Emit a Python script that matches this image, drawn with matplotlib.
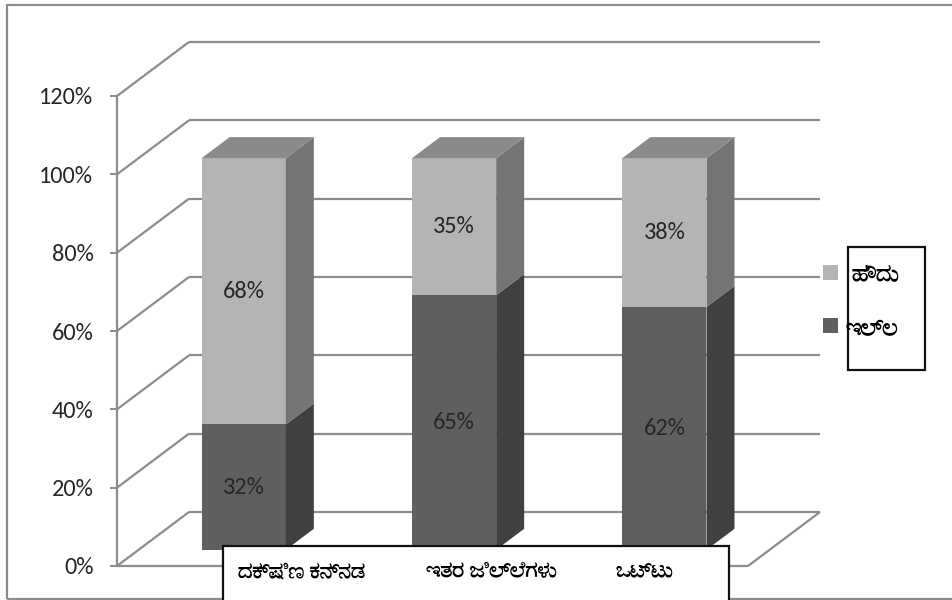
import matplotlib
matplotlib.use("Agg")
import matplotlib.pyplot as plt
from matplotlib import font_manager
from matplotlib.ft2font import FT2Font
from matplotlib.patches import Polygon, Rectangle
from matplotlib.transforms import Affine2D

# data
categories = ["ದಕ್ಷಿಣ ಕನ್ನಡ", "ಇತರ ಜಿಲ್ಲೆಗಳು", "ಒಟ್ಟು"]
series_names = ["ಹೌದು", "ಇಲ್ಲ"]
yes_share = [68, 35, 38]
no_share = [32, 65, 62]
yticks = [0, 20, 40, 60, 80, 100, 120]

W, H, DPI = 952, 600, 100


def find_family(ch, bold=False):
	"""first installed family that has a glyph for ch"""
	hits = []
	for f in font_manager.fontManager.ttflist:
		try:
			if ord(ch) in FT2Font(f.fname).get_charmap():
				hits.append(f)
		except Exception:
			continue
	if not hits:
		return None
	if bold:
		for f in hits:
			if f.weight in ("bold", 700):
				return f.name
	return hits[0].name


names = {f.name for f in font_manager.fontManager.ttflist}
latin = "Carlito" if "Carlito" in names else "Lato"
kan = find_family("ಕ", bold=True)
kan_fam = [kan, "DejaVu Sans"] if kan else ["DejaVu Sans"]

plt.rcParams["font.family"] = [latin, "DejaVu Sans"]

GRID = "#8c8c8c"
LIGHT = ("#b4b4b4", "#747474", "#8a8a8a")  # front, side, top
DARK = ("#5f5f5f", "#404040", "#4e4e4e")
TXT = "#262626"

fig = plt.figure(figsize=(W / DPI, H / DPI), dpi=DPI)
ax = fig.add_axes([117 / W, 34 / H, 631 / W, 470 / H])
ax.set_xlim(-0.5, 2.5)
ax.set_ylim(0, 120)
for s in ("top", "right", "bottom"):
	ax.spines[s].set_visible(False)
ax.spines["left"].set_color(GRID)
ax.spines["left"].set_linewidth(1.6)
ax.set_xticks([])
ax.set_yticks(yticks)
ax.set_yticklabels([f"{v}%" for v in yticks])
ax.tick_params(axis="y", length=5, width=1.4, color=GRID, pad=12,
	labelsize=17.5, labelcolor=TXT)
ax.patch.set_visible(False)


def px(dx, dy):
	"""pixel offset -> data units"""
	o = ax.transData.transform((0, 0))
	p = ax.transData.inverted().transform((o[0] + dx, o[1] + dy))
	return p[0], p[1]


wx, wy = px(72, 54)  # back wall
dx, dy = px(28, 21)  # bar depth
front = ax.transData + Affine2D().translate(21.6, 16.2)

# walls and floor
lk = dict(color=GRID, lw=1.6, zorder=1, clip_on=False, solid_capstyle="butt")
for v in yticks:
	ax.plot([-0.5, -0.5 + wx], [v, v + wy], **lk)
	ax.plot([-0.5 + wx, 2.5 + wx], [v + wy, v + wy], **lk)
ax.plot([-0.5, 2.5], [0, 0], **lk)
ax.plot([2.5, 2.5 + wx], [0, wy], **lk)

# stacked 3d bars
x = list(range(len(categories)))
bw = 0.4
base = [0] * len(x)
for vals, cols in ((no_share, DARK), (yes_share, LIGHT)):
	ax.bar(x, vals, bw, bottom=base, color=cols[0], transform=front,
		zorder=3, clip_on=False, linewidth=0)
	for i, v in enumerate(vals):
		b, t = base[i], base[i] + v
		xl, xr = i - bw / 2, i + bw / 2
		ax.add_patch(Polygon([(xr, b), (xr + dx, b + dy), (xr + dx, t + dy), (xr, t)],
			closed=True, fc=cols[1], lw=0, transform=front, zorder=3, clip_on=False))
		ax.text(i, b + v / 2, f"{v}%", transform=front, ha="center", va="center",
			fontsize=17.5, color=TXT, zorder=4)
	base = [b + v for b, v in zip(base, vals)]
for i, t in enumerate(base):
	xl, xr = i - bw / 2, i + bw / 2
	ax.add_patch(Polygon([(xl, t), (xr, t), (xr + dx, t + dy), (xl + dx, t + dy)],
		closed=True, fc=LIGHT[2], lw=0, transform=front, zorder=3, clip_on=False))

# category label box
fig.add_artist(Rectangle((223 / W, -0.02), 506 / W, 54 / H + 0.02,
	transform=fig.transFigure, fc="white", ec="#111111", lw=1.6, zorder=5))
for cx, name in zip([302, 491, 644], categories):
	fig.text(cx / W, 1 - 572 / H, name, ha="center", va="center", fontsize=16,
		fontweight="bold", family=kan_fam, color="black", zorder=6)

# legend
fig.add_artist(Rectangle((848 / W, 1 - 370 / H), 77 / W, 123 / H,
	transform=fig.transFigure, fc="none", ec="#111111", lw=1.6, zorder=5))
for cy, col in zip([272, 325], [LIGHT[0], DARK[0]]):
	fig.add_artist(Rectangle((823 / W, 1 - (cy + 7.5) / H), 15 / W, 15 / H,
		transform=fig.transFigure, fc=col, lw=0, zorder=5))
for (lx, cy), name in zip([(852, 275), (846, 330)], series_names):
	fig.text(lx / W, 1 - cy / H, name, ha="left", va="center", fontsize=17,
		fontweight="bold", family=kan_fam, color="black", zorder=6)

# outer frame, right edge runs off the canvas
fig.add_artist(Rectangle((7 / W, 1.5 / H), 960 / W, 594 / H,
	transform=fig.transFigure, fc="none", ec=GRID, lw=1.6, zorder=0))

fig.savefig("out.png", dpi=DPI)
